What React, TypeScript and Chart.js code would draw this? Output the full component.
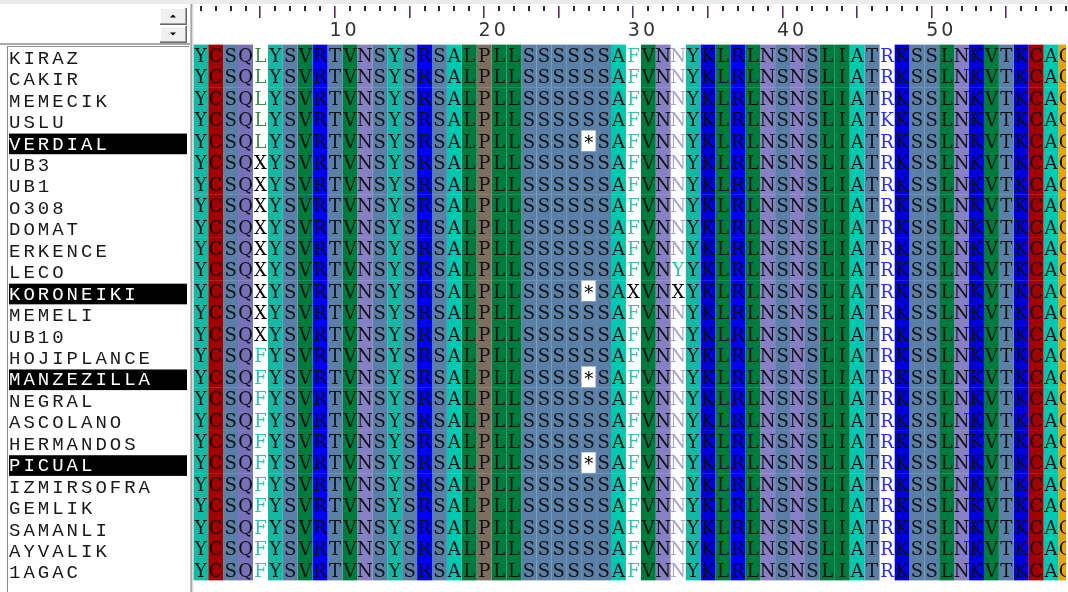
import { useEffect, useRef } from 'react';
import { Chart, registerables } from 'chart.js';

Chart.register(...registerables);

// ---- data ----
const names: string[] = [
  'KIRAZ', 'CAKIR', 'MEMECIK', 'USLU', 'VERDIAL', 'UB3', 'UB1', 'O308', 'DOMAT',
  'ERKENCE', 'LECO', 'KORONEIKI', 'MEMELI', 'UB10', 'HOJIPLANCE', 'MANZEZILLA',
  'NEGRAL', 'ASCOLANO', 'HERMANDOS', 'PICUAL', 'IZMIRSOFRA', 'GEMLIK', 'SAMANLI',
  'AYVALIK', '1AGAC',
];

const highlightedNames: string[] = ['VERDIAL', 'KORONEIKI', 'MANZEZILLA', 'PICUAL'];

const sequences: string[] = [
  'YCSQLYSVRTVNSYSRSALPLLSSSSSSAFVNNYKLRLNSNSLIATRKSSLNKVTKCAG', // KIRAZ
  'YCSQLYSVRTVNSYSRSALPLLSSSSSSAFVNNYKLRLNSNSLIATRKSSLNKVTKCAG', // CAKIR
  'YCSQLYSVRTVNSYSRSALPLLSSSSSSAFVNNYKLRLNSNSLIATRKSSLNKVTKCAG', // MEMECIK
  'YCSQLYSVRTVNSYSRSALPLLSSSSSSAFVNNYKLRLNSNSLIATKKSSLNKVTKCAG', // USLU
  'YCSQLYSVRTVNSYSRSALPLLSSSS*SAFVNNYKLRLNSNSLIATRKSSLNKVTKCAG', // VERDIAL
  'YCSQXYSVRTVNSYSRSALPLLSSSSSSAFVNNYKLRLNSNSLIATRKSSLNKVTKCAG', // UB3
  'YCSQXYSVRTVNSYSRSALPLLSSSSSSAFVNNYKLRLNSNSLIATRKSSLNKVTKCAG', // UB1
  'YCSQXYSVRTVNSYSRSALPLLSSSSSSAFVNNYKLRLNSNSLIATRKSSLNKVTKCAG', // O308
  'YCSQXYSVRTVNSYSRSALPLLSSSSSSAFVNNYKLRLNSNSLIATRKSSLNKVTKCAG', // DOMAT
  'YCSQXYSVRTVNSYSRSALPLLSSSSSSAFVNNYKLRLNSNSLIATRKSSLNKVTKCAG', // ERKENCE
  'YCSQXYSVRTVNSYSRSALPLLSSSSSSAFVNYYKLRLNSNSLIATRKSSLNKVTKCAG', // LECO
  'YCSQXYSVRTVNSYSRSALPLLSSSS*SAXVNXYKLRLNSNSLIATRKSSLNKVTKCAG', // KORONEIKI
  'YCSQXYSVRTVNSYSRSALPLLSSSSSSAFVNNYKLRLNSNSLIATRKSSLNKVTKCAG', // MEMELI
  'YCSQXYSVRTVNSYSRSALPLLSSSSSSAFVNNYKLRLNSNSLIATRKSSLNKVTKCAG', // UB10
  'YCSQFYSVRTVNSYSRSALPLLSSSSSSAFVNNYKLRLNSNSLIATRKSSLNKVTKCAG', // HOJIPLANCE
  'YCSQFYSVRTVNSYSRSALPLLSSSS*SAFVNNYKLRLNSNSLIATRKSSLNKVTKCAG', // MANZEZILLA
  'YCSQFYSVRTVNSYSRSALPLLSSSSSSAFVNNYKLRLNSNSLIATRKSSLNKVTKCAG', // NEGRAL
  'YCSQFYSVRTVNSYSRSALPLLSSSSSSAFVNNYKLRLNSNSLIATRKSSLNKVTKCAG', // ASCOLANO
  'YCSQFYSVRTVNSYSRSALPLLSSSSSSAFVNNYKLRLNSNSLIATRKSSLNKVTKCAG', // HERMANDOS
  'YCSQFYSVRTVNSYSRSALPLLSSSS*SAFVNNYKLRLNSNSLIATRKSSLNKVTKCAG', // PICUAL
  'YCSQFYSVRTVNSYSRSALPLLSSSSSSAFVNNYKLRLNSNSLIATRKSSLNKVTKCAG', // IZMIRSOFRA
  'YCSQFYSVRTVNSYSRSALPLLSSSSSSAFVNNYKLRLNSNSLIATRKSSLNKVTKCAG', // GEMLIK
  'YCSQFYSVRTVNSYSRSALPLLSSSSSSAFVNNYKLRLNSNSLIATRKSSLNKVTKCAG', // SAMANLI
  'YCSQFYSVRTVNSYSRSALPLLSSSSSSAFVNNYKLRLNSNSLIATRKSSLNKVTKCAG', // AYVALIK
  'YCSQFYSVRTVNSYSRSALPLLSSSSSSAFVNNYKLRLNSNSLIATRKSSLNKVTKCAG', // 1AGAC
];

const rulerLabels: number[] = [10, 20, 30, 40, 50];
const rulerMajorStep = 5;

// ---- styles ----
const residueBg: Record<string, string> = {
  Y: '#14b8a4', A: '#00c9b1', C: '#a30000', S: '#5a80a8', T: '#5a80a8',
  Q: '#7870b8', N: '#8880c4', V: '#007b3e', L: '#007b3e', I: '#007b3e',
  R: '#0000ff', K: '#0000dc', P: '#7c6f62', G: '#f0a000', F: '#2ec4b0',
};
const residueFg: Record<string, string> = {
  L: '#3c9040', F: '#30c2b2', N: '#a8a0d8', Y: '#20c0b0', R: '#2a2aff',
  K: '#2a2aff', X: '#000000', '*': '#000000',
};

const numCols = sequences[0].length;
const columnConserved: boolean[] = Array.from({ length: numCols }, (_, c) => {
  const set = new Set(sequences.map((s) => s[c]).filter((ch) => ch !== '*'));
  return set.size === 1;
});

function cellBg(c: number, ch: string): string {
  if (ch === '*') return '#ffffff';
  if (!columnConserved[c]) return '#ffffff';
  return residueBg[ch] || '#ffffff';
}
function cellFg(c: number, ch: string): string {
  if (ch === '*') return '#000000';
  if (columnConserved[c]) return '#111111';
  return residueFg[ch] || '#000000';
}

const panelPlugin = {
  id: 'alignmentPanel',
  beforeDraw(chart: any) {
    const { ctx, scales } = chart;
    const ys = scales.y;
    ctx.save();
    ctx.fillStyle = '#ffffff';
    ctx.fillRect(0, 0, chart.width, chart.height);
    ctx.fillStyle = '#ececec';
    ctx.fillRect(0, 0, chart.width, 4);
    const rowH = ys.getPixelForValue(1) - ys.getPixelForValue(0);
    names.forEach((n, i) => {
      if (highlightedNames.includes(n)) {
        const yc = ys.getPixelForValue(i);
        ctx.fillStyle = '#000000';
        ctx.fillRect(9, yc - rowH / 2 + 3.3, 178, rowH - 0.8);
      }
    });
    ctx.restore();
    ctx.letterSpacing = '3px';
  },
  beforeDatasetsDraw(chart: any) {
    chart.ctx.letterSpacing = '0px';
  },
  afterDatasetsDraw(chart: any) {
    const { ctx, chartArea, scales } = chart;
    const xs = scales.x;
    const ys = scales.y;
    ctx.save();
    ctx.beginPath();
    ctx.rect(chartArea.left, chartArea.top, chartArea.right - chartArea.left, chartArea.bottom - chartArea.top);
    ctx.clip();
    ctx.font = '18px "DejaVu Serif", serif';
    ctx.textAlign = 'center';
    ctx.textBaseline = 'alphabetic';
    sequences.forEach((seq, r) => {
      const y = ys.getPixelForValue(r) + 6.8;
      for (let c = 0; c < seq.length; c++) {
        const ch = seq[c];
        const x = xs.getPixelForValue(c + 1);
        ctx.fillStyle = cellFg(c, ch);
        ctx.fillText(ch, x, ch === '*' ? y + 1 : y);
      }
    });
    ctx.restore();
  },
  afterDraw(chart: any) {
    const { ctx, scales, chartArea } = chart;
    const xs = scales.x;
    ctx.save();
    // ruler tick marks
    for (let c = 1; c <= numCols; c++) {
      const x = xs.getPixelForValue(c);
      if (x > chart.width) continue;
      if (c % rulerMajorStep === 0) {
        ctx.fillStyle = '#5c2d5c';
        ctx.fillRect(Math.round(x) - 1, 6, 1.6, 12);
      } else {
        ctx.fillStyle = '#2a2a2a';
        ctx.fillRect(Math.round(x) - 1, 6, 2, 5);
      }
    }
    // separators
    ctx.fillStyle = '#a8a8a8';
    ctx.fillRect(0, 43, 190, 2);
    ctx.fillRect(chartArea.left - 3, 4, 2, chart.height - 4);
    ctx.fillStyle = '#d8d8d8';
    ctx.fillRect(chartArea.left - 1, 4, 1, chart.height - 4);
    ctx.fillStyle = '#8c8c8c';
    ctx.fillRect(7, 46, 1, chart.height - 46);
    ctx.fillRect(7, 46, 182, 1);
    // scroll buttons
    const drawButton = (top: number, up: boolean) => {
      const l = 160, w = 26, h = 16;
      ctx.fillStyle = '#f0f0f0';
      ctx.fillRect(l, top, w, h);
      ctx.fillStyle = '#ffffff';
      ctx.fillRect(l, top, w, 1);
      ctx.fillRect(l, top, 1, h);
      ctx.fillStyle = '#a0a0a0';
      ctx.fillRect(l, top + h - 1, w, 1);
      ctx.fillRect(l + w - 1, top, 1, h);
      ctx.fillStyle = '#696969';
      ctx.fillRect(l, top + h, w + 1, 1);
      ctx.fillRect(l + w, top, 1, h + 1);
      const cx = l + w / 2, cy = top + h / 2;
      ctx.fillStyle = '#000000';
      ctx.beginPath();
      if (up) {
        ctx.moveTo(cx - 3, cy + 1.5);
        ctx.lineTo(cx + 3, cy + 1.5);
        ctx.lineTo(cx, cy - 1.5);
      } else {
        ctx.moveTo(cx - 3, cy - 1.5);
        ctx.lineTo(cx + 3, cy - 1.5);
        ctx.lineTo(cx, cy + 1.5);
      }
      ctx.closePath();
      ctx.fill();
    };
    drawButton(8, true);
    drawButton(26, false);
    ctx.restore();
  },
};

export default function App() {
  const ref = useRef<HTMLCanvasElement>(null);

  useEffect(() => {
    if (!ref.current) return;
    const datasets = Array.from({ length: numCols }, (_, c) => ({
      label: `pos ${c + 1}`,
      data: sequences.map(() => [c + 1 - 0.5, c + 1 + 0.5]),
      backgroundColor: sequences.map((s) => cellBg(c, s[c])),
      borderColor: sequences.map((s) => (s[c] === '*' ? '#b8bccc' : 'rgba(0,0,0,0)')),
      borderWidth: sequences.map((s) => (s[c] === '*' ? 1 : 0)),
      borderSkipped: false,
      grouped: false,
      barPercentage: 1.02,
      categoryPercentage: 1,
    }));

    const chart = new Chart(ref.current, {
      type: 'bar',
      data: { labels: names, datasets: datasets as any },
      options: {
        indexAxis: 'y',
        animation: false,
        responsive: false,
        devicePixelRatio: 1,
        events: [],
        layout: { padding: { left: 9, right: 0, top: 0, bottom: 7.5 } },
        plugins: {
          legend: { display: false },
          tooltip: { enabled: false },
          title: { display: false },
        },
        scales: {
          x: {
            type: 'linear',
            position: 'top',
            min: 0.5,
            max: 59,
            grid: { display: false, drawTicks: false },
            border: { display: false },
            ticks: {
              stepSize: 1,
              autoSkip: false,
              includeBounds: false,
              maxRotation: 0,
              minRotation: 0,
              labelOffset: 9.5,
              padding: 2,
              color: '#333333',
              font: { family: '"DejaVu Sans", Verdana, sans-serif', size: 19 },
              callback: (v: any) => (rulerLabels.includes(Number(v)) ? String(v) : ''),
            },
            afterFit: (scale: any) => {
              scale.height = 44.5;
            },
          },
          y: {
            type: 'category',
            position: 'left',
            offset: true,
            grid: { display: false, drawTicks: false },
            border: { display: false },
            ticks: {
              crossAlign: 'far',
              padding: 0,
              autoSkip: false,
              labelOffset: 3.5,
              color: (ctx: any) => (highlightedNames.includes(names[ctx.index]) ? '#ffffff' : '#1a1a1a'),
              font: { family: '"Liberation Mono", "DejaVu Sans Mono", monospace', size: 19 },
            },
            afterFit: (scale: any) => {
              scale.width = 184.3;
            },
          },
        },
      } as any,
      plugins: [panelPlugin],
    });
    return () => chart.destroy();
  }, []);

  return (
    <div style={{ position: 'fixed', left: 0, top: 0, width: 1068, height: 592, background: '#ffffff' }}>
      <canvas ref={ref} width={1068} height={592} style={{ display: 'block' }} />
    </div>
  );
}
